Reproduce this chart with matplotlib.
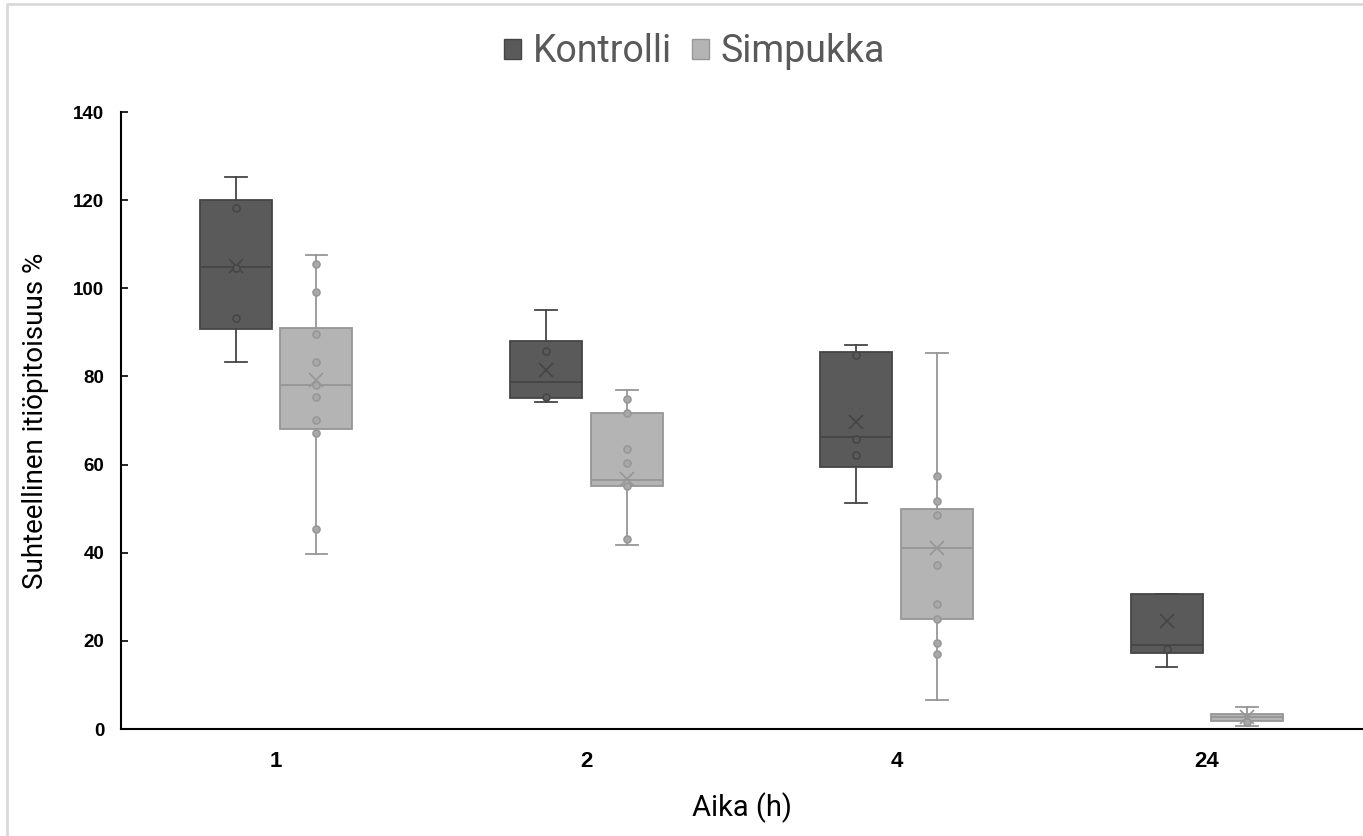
import matplotlib
matplotlib.use("Agg")
import matplotlib.pyplot as plt
from matplotlib.patches import Patch
from matplotlib.lines import Line2D
import numpy as np

# aika (h) kategoriat
categories = ["1", "2", "4", "24"]

# Kontrolli: viiksien päät, kvartiilit, mediaani, keskiarvo
k_whishi = [125.2, 95.1, 87.1, 30.6]
k_q3 = [120.0, 88.1, 85.5, 30.6]
k_med = [104.9, 78.8, 66.3, 19.0]
k_mean = [105.0, 81.5, 69.6, 24.4]
k_q1 = [90.7, 75.2, 59.5, 17.3]
k_whislo = [83.2, 74.2, 51.3, 14.1]
k_points = [[118.3, 104.6, 93.2],
            [85.8, 75.4],
            [84.9, 65.8, 62.2],
            [18.2]]

# Simpukka
s_whishi = [107.6, 76.9, 85.3, 5.0]
s_q3 = [90.9, 71.7, 50.0, 3.3]
s_med = [78.0, 56.5, 41.0, 2.8]
s_mean = [79.3, 56.8, 41.0, 2.8]
s_q1 = [68.0, 55.1, 25.0, 1.8]
s_whislo = [39.6, 41.8, 6.6, 0.7]
s_points = [[105.6, 99.2, 89.6, 83.3, 78.0, 75.4, 70.1, 67.2, 45.4],
            [74.9, 71.7, 63.6, 60.3, 55.1, 43.0],
            [57.5, 51.7, 48.6, 37.2, 28.4, 25.0, 19.6, 17.1],
            [1.7]]

K_FILL, K_EDGE = "#5a5a5a", "#454545"
S_FILL, S_EDGE = "#b4b4b4", "#969696"


def make_stats(whislo, q1, med, q3, whishi, mean):
    out = []
    for i in range(len(med)):
        out.append(dict(whislo=whislo[i], q1=q1[i], med=med[i], q3=q3[i],
                        whishi=whishi[i], mean=mean[i], fliers=[]))
    return out


def draw_series(ax, stats, pos, points, fill, edge, ptface):
    lw = 1.3
    ax.bxp(stats, positions=pos, widths=0.232, capwidths=0.07,
           patch_artist=True, showmeans=True, showfliers=False,
           boxprops=dict(facecolor=fill, edgecolor=edge, linewidth=lw),
           whiskerprops=dict(color=edge, linewidth=lw),
           capprops=dict(color=edge, linewidth=lw),
           medianprops=dict(color=edge, linewidth=lw),
           meanprops=dict(marker="x", markeredgecolor=edge, markersize=10,
                          markeredgewidth=1.2))
    for p, vals in zip(pos, points):
        ax.scatter([p] * len(vals), vals, s=26, facecolor=ptface,
                   edgecolor=edge, linewidth=1.1, zorder=4)


plt.rcParams['font.family'] = ['Roboto', 'DejaVu Sans']

fig = plt.figure(figsize=(13.63, 8.36), dpi=100)
ax = fig.add_axes([121 / 1363, 1 - 729 / 836, (1362 - 121) / 1363, (729 - 112) / 836])

x = np.arange(len(categories))
off = 0.13
draw_series(ax, make_stats(k_whislo, k_q1, k_med, k_q3, k_whishi, k_mean),
            x - off, k_points, K_FILL, K_EDGE, K_FILL)
draw_series(ax, make_stats(s_whislo, s_q1, s_med, s_q3, s_whishi, s_mean),
            x + off, s_points, S_FILL, S_EDGE, "#a8a8a8")

ax.set_xlim(-0.5, len(categories) - 0.5)
ax.set_ylim(0, 140)
ax.set_xticks(x)
ax.set_xticklabels(categories, fontsize=16, fontweight="bold", family="Liberation Sans")
ax.set_yticks(range(0, 141, 20))
ax.set_yticklabels([str(v) for v in range(0, 141, 20)], fontsize=13.5,
                   fontweight="bold", family="Liberation Sans")
ax.tick_params(axis="x", length=0, pad=16)
ax.tick_params(axis="y", direction="in", length=5, width=1.2, pad=12)

for s in ["top", "right"]:
    ax.spines[s].set_visible(False)
for s in ["left", "bottom"]:
    ax.spines[s].set_linewidth(1.5)
    ax.spines[s].set_color("black")

ax.set_ylabel("Suhteellinen itiöpitoisuus %", fontsize=20)
ax.yaxis.set_label_coords(-0.058, 0.5)
ax.set_xlabel("Aika (h)", fontsize=21)
ax.xaxis.set_label_coords(0.5, -0.103)

handles = [Patch(facecolor=K_FILL, edgecolor=K_EDGE, label="Kontrolli"),
           Patch(facecolor=S_FILL, edgecolor=S_EDGE, label="Simpukka")]
fig.legend(handles=handles, loc="center", bbox_to_anchor=(0.5095, 0.938), ncol=2,
           frameon=False, fontsize=27, labelcolor="#595959", handlelength=0.45,
           handleheight=0.45, handletextpad=0.3, columnspacing=0.55)

# kuvan reunaviiva
fig.add_artist(Line2D([7 / 1363, 7 / 1363, 1.0], [0.0, 1 - 4 / 836, 1 - 4 / 836],
                      transform=fig.transFigure, color="#d9d9d9", linewidth=2))

fig.savefig("out.png", dpi=100)
